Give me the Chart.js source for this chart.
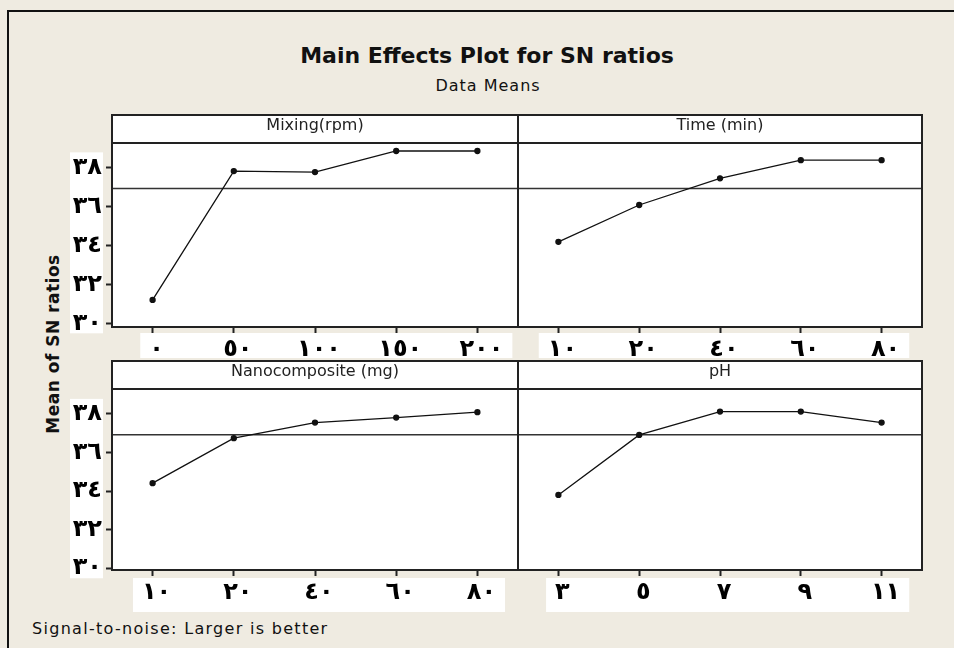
<!DOCTYPE html>
<html>
<head>
<meta charset="utf-8">
<script src="https://cdn.jsdelivr.net/npm/chart.js@4.4.0/dist/chart.umd.min.js"></script>
<style>
  body { margin: 0; width: 954px; height: 648px; overflow: hidden; position: relative; background: #efebe1; font-family: "DejaVu Sans", sans-serif; color: #111; }
  .frame { position: absolute; left: 7px; top: 10px; width: 1000px; height: 700px; border-top: 2px solid #111; border-left: 2px solid #111; }
  .txt { position: absolute; white-space: nowrap; }
  #title { left: 287px; top: 43px; width: 400px; text-align: center; font-size: 22px; font-weight: bold; }
  #subtitle { left: 388px; top: 76px; width: 200px; text-align: center; font-size: 16px; letter-spacing: 1px; }
  #ytitle { left: -47px; top: 334px; width: 200px; text-align: center; font-size: 17px; font-weight: bold; letter-spacing: 0.5px; transform: rotate(-90deg); }
  #footer { left: 32px; top: 619px; font-size: 16px; letter-spacing: 1.3px; }
  canvas { position: absolute; }
</style>
</head>
<body>
<div class="frame"></div>
<div class="txt" id="title">Main Effects Plot for SN ratios</div>
<div class="txt" id="subtitle">Data Means</div>
<div class="txt" id="ytitle">Mean of SN ratios</div>
<div class="txt" id="footer">Signal-to-noise: Larger is better</div>

<canvas id="c1" width="464" height="247" style="left:60px; top:114px"></canvas>
<canvas id="c2" width="416" height="247" style="left:512px; top:114px"></canvas>
<canvas id="c3" width="464" height="254" style="left:60px; top:360px"></canvas>
<canvas id="c4" width="416" height="254" style="left:512px; top:360px"></canvas>

<script>
// factor levels (tick labels as printed)
const mixingLevels = ["٠", "٥٠", "١٠٠", "١٥٠", "٢٠٠"];
const timeLevels = ["١٠", "٢٠", "٤٠", "٦٠", "٨٠"];
const nanoLevels = ["١٠", "٢٠", "٤٠", "٦٠", "٨٠"];
const phLevels = ["٣", "٥", "٧", "٩", "١١"];

// mean SN ratio per level
const mixingSN = [31.2, 37.81, 37.76, 38.84, 38.84];
const timeSN = [34.18, 36.07, 37.44, 38.37, 38.37];
const nanoSN = [34.41, 36.74, 37.55, 37.81, 38.09];
const phSN = [33.8, 36.91, 38.12, 38.12, 37.55];

const overallMean = 36.92;

const yTicks = [30, 32, 34, 36, 38];
const yTickLabels = ["٣٠", "٣٢", "٣٤", "٣٦", "٣٨"];

const HEADER = 28;
const LABEL_FONT = { family: "DejaVu Sans", size: 24, weight: "bold" };

const panelPlugin = {
    id: "panel",
    beforeDraw(chart) {
        const { ctx, chartArea: a, scales: { x, y } } = chart;
        const box = chart.options.plugins.panel;
        ctx.save();
        ctx.fillStyle = "#fff";
        ctx.fillRect(a.left, a.top - HEADER, a.right - a.left, a.bottom - a.top + HEADER);

        // white strips behind the tick labels
        const labels = chart.data.labels;
        ctx.font = "bold 24px 'DejaVu Sans'";
        const w0 = ctx.measureText(labels[0]).width;
        const wn = ctx.measureText(labels[labels.length - 1]).width;
        const x0 = x.getPixelForValue(0) + 4 - w0 / 2 - 9;
        const x1 = x.getPixelForValue(labels.length - 1) + 4 + wn / 2 + 9;
        ctx.fillRect(x0, a.bottom + box.xTop, x1 - x0, box.xH);
        if (y.options.display) {
            const top = y.getPixelForValue(38) - 15;
            const bot = y.getPixelForValue(30) + 10;
            ctx.fillRect(a.left - 42, top, 33, bot - top);
        }
        ctx.restore();
    },
    beforeDatasetsDraw(chart) {
        const { ctx, chartArea: a, scales: { y } } = chart;
        const py = y.getPixelForValue(overallMean);
        ctx.save();
        ctx.strokeStyle = "#333";
        ctx.lineWidth = 1.5;
        ctx.beginPath();
        ctx.moveTo(a.left, py);
        ctx.lineTo(a.right, py);
        ctx.stroke();
        ctx.restore();
    },
    afterDraw(chart) {
        const { ctx, chartArea: a } = chart;
        ctx.save();
        ctx.strokeStyle = "#222";
        ctx.lineWidth = 2;
        ctx.strokeRect(a.left, a.top - HEADER, a.right - a.left, a.bottom - a.top + HEADER);
        ctx.beginPath();
        ctx.moveTo(a.left, a.top);
        ctx.lineTo(a.right, a.top);
        ctx.stroke();
        ctx.restore();
    }
};

function makePanel(id, header, labels, values, showY, yMin, yMax, xAxisH, box) {
    const tickGrid = {
        drawOnChartArea: false,
        drawTicks: true,
        tickLength: 6,
        tickWidth: 2,
        tickColor: "#222"
    };
    new Chart(document.getElementById(id), {
        type: "line",
        data: {
            labels: labels,
            datasets: [{
                data: values,
                borderColor: "#111",
                borderWidth: 1.3,
                pointRadius: 2.5,
                pointBackgroundColor: "#111",
                pointBorderColor: "#111",
                tension: 0
            }]
        },
        options: {
            responsive: false,
            animation: false,
            // x scale wants ~5.3px at the sides; 6px keeps panels on 112/518/922
            layout: { padding: { top: 1, left: showY ? 0 : 6, right: 6, bottom: 0 } },
            plugins: {
                legend: { display: false },
                tooltip: { enabled: false },
                title: {
                    display: true,
                    text: header,
                    fullSize: false,
                    color: "#222",
                    font: { family: "DejaVu Sans", size: 16, weight: "normal", lineHeight: "18px" },
                    padding: { top: 2, bottom: 8 }
                },
                panel: box
            },
            scales: {
                x: {
                    offset: true,
                    grid: tickGrid,
                    border: { display: false },
                    ticks: {
                        color: "#000",
                        font: LABEL_FONT,
                        padding: 2,
                        labelOffset: 4,
                        maxRotation: 0,
                        autoSkip: false
                    },
                    afterFit: s => { s.height = xAxisH; }
                },
                y: {
                    display: showY,
                    min: yMin,
                    max: yMax,
                    grid: tickGrid,
                    border: { display: false },
                    afterBuildTicks: s => { s.ticks = yTicks.map(v => ({ value: v })); },
                    ticks: {
                        color: "#000",
                        font: LABEL_FONT,
                        padding: 4,
                        callback: v => yTickLabels[yTicks.indexOf(v)]
                    },
                    afterFit: s => { s.width = showY ? 52 : 0; }
                }
            }
        },
        plugins: [panelPlugin]
    });
}

makePanel("c1", "Mixing(rpm)", mixingLevels, mixingSN, true, 29.81, 39.25, 34, { xTop: 6, xH: 25 });
makePanel("c2", "Time (min)", timeLevels, timeSN, false, 29.81, 39.25, 34, { xTop: 6, xH: 25 });
makePanel("c3", "Nanocomposite (mg)", nanoLevels, nanoSN, true, 29.91, 39.29, 44, { xTop: 8, xH: 34 });
makePanel("c4", "pH", phLevels, phSN, false, 29.91, 39.29, 44, { xTop: 8, xH: 34 });
</script>
</body>
</html>
